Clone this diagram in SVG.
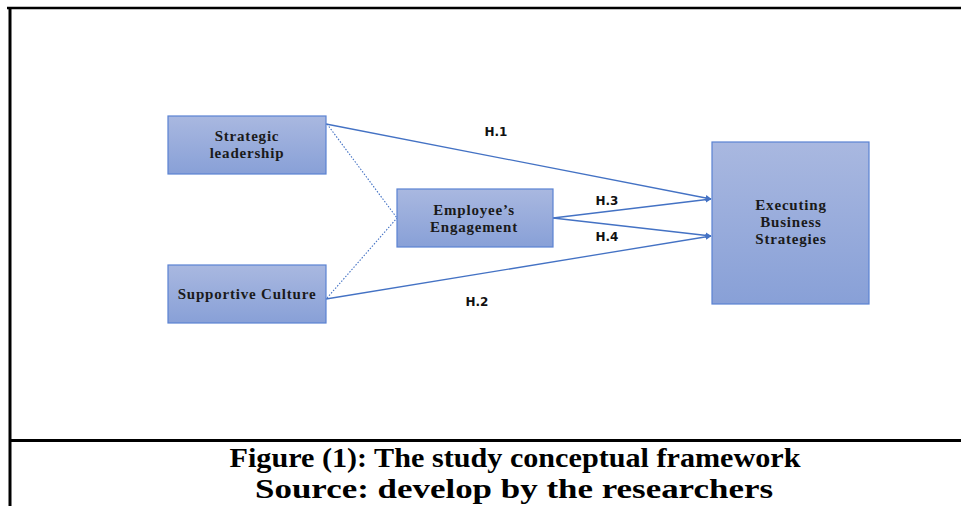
<svg xmlns="http://www.w3.org/2000/svg" width="961" height="506" viewBox="0 0 961 506">
<style>
.box{fill:url(#g);stroke:#5a82d2;stroke-width:1.2}
.lbl{font-family:"Liberation Serif","Times New Roman",serif;font-weight:bold;font-size:15px;letter-spacing:0.8px;fill:#1a1a1a;text-anchor:middle}
.h{font-family:"DejaVu Sans",Verdana,sans-serif;font-weight:bold;font-size:12px;fill:#111;text-anchor:middle}
.con{stroke:#4472c4;stroke-width:1.3;fill:none}
.dot{stroke:#4472c4;stroke-width:1.1;fill:none;stroke-dasharray:1.5 1.6}
.cap{font-family:"Liberation Serif","Times New Roman",serif;font-weight:bold;font-size:28px;fill:#000;text-anchor:middle}
.frame{stroke:#000;fill:none}
</style>
<defs>
<linearGradient id="g" x1="0" y1="0" x2="0" y2="1">
<stop offset="0" stop-color="#a9b8e0"/>
<stop offset="1" stop-color="#88a0d7"/>
</linearGradient>
<marker id="arr" viewBox="0 0 10 10" refX="9" refY="5" markerWidth="6" markerHeight="6" markerUnits="userSpaceOnUse" orient="auto">
<path d="M0,0 L10,5 L0,10 z" fill="#4472c4"/>
</marker>
</defs>
<rect width="961" height="506" fill="#fff"/>
<g id="frame">
<line class="frame" x1="7" y1="8" x2="961" y2="8" stroke-width="2.5"/>
<line class="frame" x1="10" y1="7" x2="10" y2="506" stroke-width="3"/>
<line class="frame" x1="10" y1="440.5" x2="961" y2="440.5" stroke-width="3"/>
</g>
<g id="connectors">
<line class="dot" x1="327" y1="124" x2="397" y2="218"/>
<line class="dot" x1="327" y1="298" x2="397" y2="218"/>
<line class="con" x1="326" y1="124" x2="711" y2="199" marker-end="url(#arr)"/>
<line class="con" x1="553" y1="218" x2="711" y2="199" marker-end="url(#arr)"/>
<line class="con" x1="553" y1="218" x2="711" y2="236" marker-end="url(#arr)"/>
<line class="con" x1="326" y1="299" x2="711" y2="236" marker-end="url(#arr)"/>
<text class="h" x="496" y="136">H.1</text>
<text class="h" x="477" y="306">H.2</text>
<text class="h" x="607" y="205">H.3</text>
<text class="h" x="607" y="241">H.4</text>
</g>
<g id="strategic">
<rect class="box" x="168" y="116" width="158" height="58"/>
<text class="lbl" x="247" y="141">Strategic</text>
<text class="lbl" x="247" y="158">leadership</text>
</g>
<g id="supportive">
<rect class="box" x="168" y="265" width="158" height="58"/>
<text class="lbl" x="247" y="299">Supportive Culture</text>
</g>
<g id="engagement">
<rect class="box" x="397" y="189" width="156" height="58"/>
<text class="lbl" x="474" y="215">Employee’s</text>
<text class="lbl" x="474" y="232">Engagement</text>
</g>
<g id="executing">
<rect class="box" x="712" y="142" width="157" height="162"/>
<text class="lbl" x="791" y="210">Executing</text>
<text class="lbl" x="791" y="227">Business</text>
<text class="lbl" x="791" y="244">Strategies</text>
</g>
<g id="caption">
<text class="cap" x="515" y="467" textLength="571" lengthAdjust="spacingAndGlyphs">Figure (1): The study conceptual framework</text>
<text class="cap" x="514" y="498" textLength="518" lengthAdjust="spacingAndGlyphs">Source: develop by the researchers</text>
</g>
</svg>
